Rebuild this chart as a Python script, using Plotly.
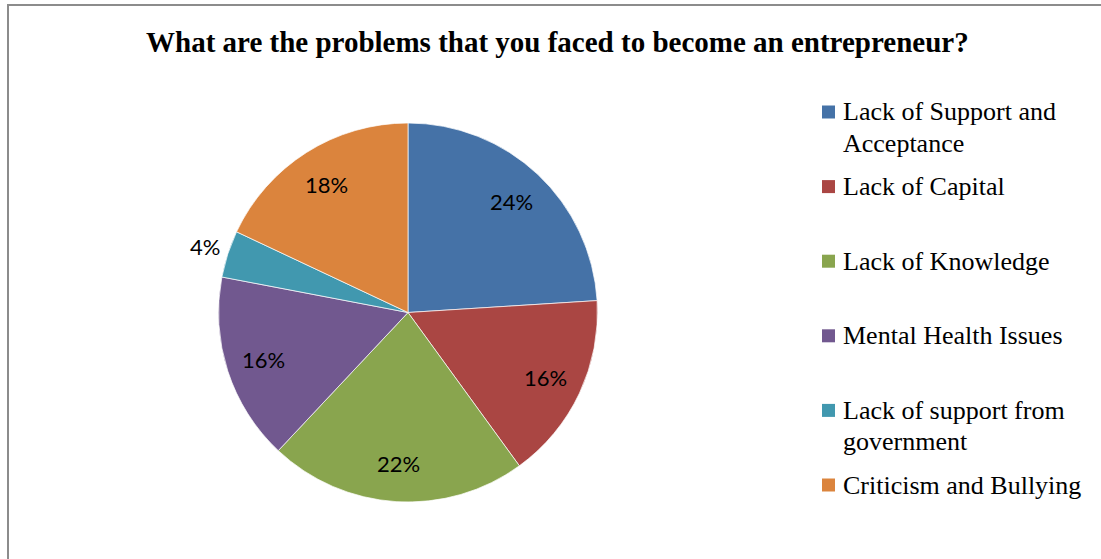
import math
import plotly.graph_objects as go

# Survey responses (share of respondents, %)
categories = [
    "Lack of Support and<br>Acceptance",
    "Lack of Capital",
    "Lack of Knowledge",
    "Mental Health Issues",
    "Lack of support from<br>government",
    "Criticism and Bullying",
]
values = [24, 16, 22, 16, 4, 18]
colors = ["#4572A7", "#AA4643", "#89A54E", "#71588F", "#4198AF", "#DB843D"]
title_text = "What are the problems that you faced to become an entrepreneur?"

W, H = 1101, 559
cx, cy, R = 408, 312.5, 189.5  # pie centre and radius in pixels


def px_x(x):
    return x / W


def px_y(y):
    return 1 - y / H


fig = go.Figure()
fig.add_trace(go.Pie(
    labels=categories,
    values=values,
    sort=False,
    direction="clockwise",
    rotation=0,
    marker=dict(colors=colors, line=dict(color="#ffffff", width=0.7)),
    textinfo="none",
    hoverinfo="label+percent",
    showlegend=False,
    domain=dict(x=[px_x(cx - R), px_x(cx + R)], y=[px_y(cy + R), px_y(cy - R)]),
))

annotations = []

# Percentage labels placed along each slice's mid-angle
total = sum(values)
cum = 0
for v in values:
    mid = 2 * math.pi * (cum + v / 2) / total
    cum += v
    frac = 1.127 if v / total < 0.05 else 0.8
    lx = cx + frac * R * math.sin(mid)
    ly = cy - frac * R * math.cos(mid)
    annotations.append(dict(
        x=px_x(lx), y=px_y(ly), xref="paper", yref="paper",
        text=f"{round(v / total * 100)}%", showarrow=False,
        xanchor="center", yanchor="middle",
        font=dict(family="Lato, Liberation Sans, sans-serif", size=22, color="#000000"),
    ))

# Title
annotations.append(dict(
    x=px_x(557.5), y=px_y(42), xref="paper", yref="paper",
    text=f"<b>{title_text}</b>", showarrow=False,
    xanchor="center", yanchor="middle",
    font=dict(family="Liberation Serif, Times New Roman, serif", size=29, color="#000000"),
))

# Legend: colour keys and wrapped labels
shapes = []
leg_x_box = 822
leg_box = 13
leg_x_text = 841
leg_y0 = 112
leg_step = 74.6
line_step = 31
for i, (lab, col) in enumerate(zip(categories, colors)):
    yc = leg_y0 + i * leg_step
    shapes.append(dict(
        type="rect", xref="paper", yref="paper",
        x0=px_x(leg_x_box), x1=px_x(leg_x_box + leg_box),
        y0=px_y(yc + leg_box / 2), y1=px_y(yc - leg_box / 2),
        fillcolor=col, line=dict(width=0),
    ))
    for j, line in enumerate(lab.split("<br>")):
        annotations.append(dict(
            x=px_x(leg_x_text), y=px_y(yc + j * line_step), xref="paper", yref="paper",
            text=line, showarrow=False, xanchor="left", yanchor="middle",
            font=dict(family="Liberation Serif, Times New Roman, serif", size=26, color="#000000"),
        ))

# Chart frame
shapes.append(dict(
    type="rect", xref="paper", yref="paper",
    x0=px_x(8), x1=px_x(W + 20), y0=px_y(H + 20), y1=px_y(5),
    line=dict(color="#8c8c8c", width=2), fillcolor="rgba(0,0,0,0)",
))

fig.update_layout(
    width=W, height=H,
    margin=dict(l=0, r=0, t=0, b=0),
    paper_bgcolor="#ffffff",
    plot_bgcolor="#ffffff",
    annotations=annotations,
    shapes=shapes,
)

fig.write_html("out.html")
